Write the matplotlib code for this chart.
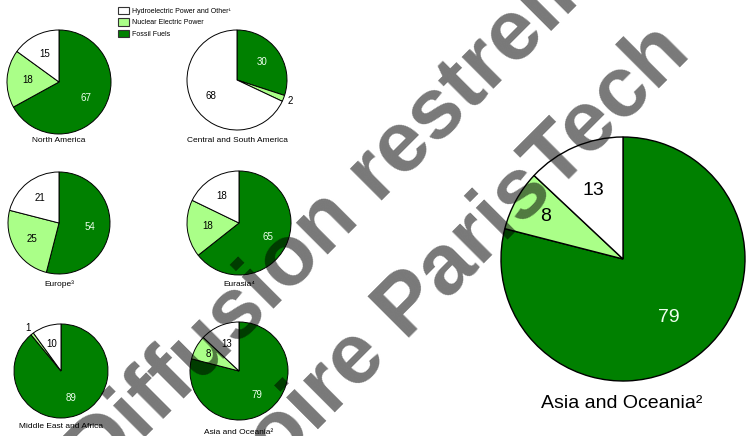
import matplotlib.pyplot as plt
from matplotlib.patches import Patch
import numpy as np

plt.rcParams['font.family'] = ['Liberation Sans', 'DejaVu Sans']

W, H = 748, 436

# share of electricity generation by source (percent)
sources = ['Fossil Fuels', 'Nuclear Electric Power', 'Hydroelectric Power and Other¹']
colors = ['#008000', '#aaff88', '#ffffff']

regions = ['North America', 'Central and South America', 'Europe³', 'Eurasia⁴',
           'Middle East and Africa', 'Asia and Oceania²']
fossil = [67, 30, 54, 65, 89, 79]
nuclear = [18, 2, 25, 18, 1, 8]
hydro = [15, 68, 21, 18, 10, 13]

# pixel centres / radii for the small pies
centres = [(59, 82), (237, 80), (59, 223), (239, 223), (61, 371), (239, 371)]
radii = [52, 50, 51, 52, 47, 49]
title_y = [141, 141, 284, 284, 426, 432]

fig = plt.figure(figsize=(W / 100, H / 100), dpi=100)


def px(x, y):
    return x / W, 1 - y / H


def px_axes(cx, cy, r):
    ax = fig.add_axes([(cx - r) / W, 1 - (cy + r) / H, 2 * r / W, 2 * r / H])
    ax.axis('off')
    return ax


def draw_pie(ax, vals, fs, lw):
    wedges, _ = ax.pie(vals, colors=colors, startangle=90, counterclock=False,
                       radius=1, wedgeprops=dict(edgecolor='black', linewidth=lw))
    ax.set_xlim(-1, 1)
    ax.set_ylim(-1, 1)
    for w in wedges:
        w.set_clip_on(False)
    for i, (w, v) in enumerate(zip(wedges, vals)):
        ang = np.deg2rad((w.theta1 + w.theta2) / 2)
        if v < 5:
            d = 1.15
        elif v < 10:
            d = 0.72
        else:
            d = 0.61
        col = '#eeffee' if i == 0 else 'black'
        ax.text(d * np.cos(ang), d * np.sin(ang), str(v), ha='center', va='center',
                fontsize=fs, color=col, clip_on=False)


for k in range(len(regions)):
    cx, cy = centres[k]
    ax = px_axes(cx, cy, radii[k])
    draw_pie(ax, [fossil[k], nuclear[k], hydro[k]], 7, 0.7)
    fig.text(*px(cx, title_y[k]), regions[k], ha='center', va='center', fontsize=6)

# enlarged Asia and Oceania pie
ax = px_axes(623, 259, 122)
draw_pie(ax, [fossil[5], nuclear[5], hydro[5]], 14, 1.0)
fig.text(*px(622, 403), regions[5], ha='center', va='center', fontsize=14)

# legend (hydro first, as in the key)
handles = [Patch(facecolor=colors[i], edgecolor='#333333', linewidth=0.8) for i in (2, 1, 0)]
fig.legend(handles, [sources[i] for i in (2, 1, 0)], loc='upper left',
           bbox_to_anchor=px(115, 4), frameon=False, fontsize=5,
           handlelength=1.6, handleheight=1.25, handletextpad=0.4, labelspacing=0.5,
           borderaxespad=0)

# restricted-distribution stamp, one line at a time
stamp = dict(rotation=45, rotation_mode='anchor', va='baseline', fontsize=62,
             fontweight='bold', color='black', alpha=0.53, zorder=10)
fig.text(*px(97, 485), 'Diffusion restreinte', ha='left', **stamp)
fig.text(*px(693, 55), 'Mémoire ParisTech', ha='right', **stamp)

fig.savefig('out.png', dpi=100)
